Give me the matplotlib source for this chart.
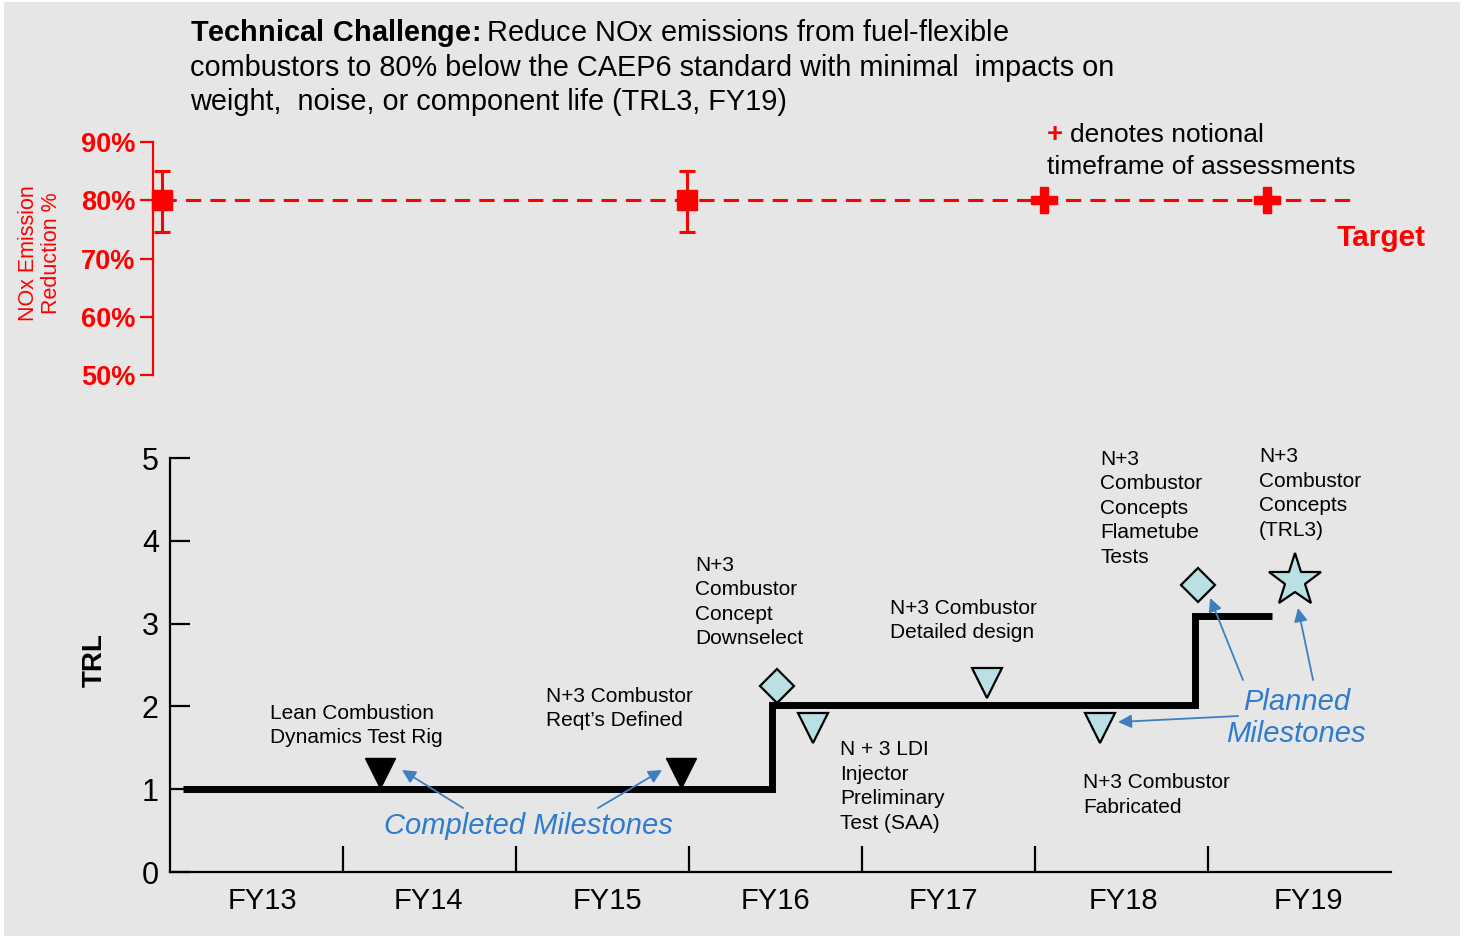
import matplotlib.pyplot as plt
from matplotlib.patches import Rectangle

plt.rcParams['font.family'] = ['Liberation Sans', 'DejaVu Sans']
plt.rcParams['mathtext.fontset'] = 'custom'
plt.rcParams['mathtext.rm'] = 'Liberation Sans'
plt.rcParams['mathtext.bf'] = 'Liberation Sans:bold'

# x unit = fiscal year, FY13 starts at 0
fy_labels = ['FY13', 'FY14', 'FY15', 'FY16', 'FY17', 'FY18', 'FY19']
fy_label_x = [0.532, 1.491, 2.526, 3.497, 4.468, 5.509, 6.578]
fy_bounds = [1, 2, 3, 4, 5, 6]

# NOx target panel
nox_ticks = [50, 60, 70, 80, 90]
target = 80
target_line_x = [-0.05, 6.82]
assessed_x = [-0.046, 2.99]
assessed_err_lo = [5.5, 5.5]
assessed_err_hi = [5.0, 5.0]
notional_x = [5.05, 6.34]

# TRL step path
trl_x = [0.075, 3.48, 3.48, 5.925, 5.925, 6.37]
trl_y = [1, 1, 2.02, 2.02, 3.09, 3.09]

# milestones
done_x = [1.214, 2.954]
done_y = [1.2, 1.2]
tri_x = [3.717, 4.72, 5.376]
tri_y = [1.74, 2.28, 1.74]
dia_x = [3.509, 5.942]
dia_y = [2.25, 3.47]
star_x = [6.503]
star_y = [3.51]

labels = [
    ('Lean Combustion\nDynamics Test Rig', 0.578, 2.03),
    ("N+3 Combustor\nReqt\u2019s Defined", 2.173, 2.24),
    ('N+3\nCombustor\nConcept\nDownselect', 3.035, 3.82),
    ('N+3 Combustor\nDetailed design', 4.16, 3.30),
    ('N + 3 LDI\nInjector\nPreliminary\nTest (SAA)', 3.873, 1.59),
    ('N+3 Combustor\nFabricated', 5.277, 1.19),
    ('N+3\nCombustor\nConcepts\nFlametube\nTests', 5.376, 5.10),
    ('N+3\nCombustor\nConcepts\n(TRL3)', 6.295, 5.13),
]

# (tail, head) of the blue call-out arrows
done_arrows = [((1.694, 0.773), (1.341, 1.232)), ((2.474, 0.773), (2.844, 1.232))]
plan_arrows = [((6.202, 2.319), (6.012, 3.309)), ((6.607, 2.319), (6.520, 3.188)),
               ((6.173, 1.884), (5.480, 1.812))]

red = '#ff0000'
blue_txt = '#2e7bcf'
blue_arr = '#3f7fc0'
fill = '#b9e0e4'

fig = plt.figure(figsize=(14.66, 9.36), dpi=100)
fig.patch.set_facecolor('white')
fig.patches.append(Rectangle((4 / 1466, 0), 1456 / 1466, 934 / 936, transform=fig.transFigure,
                             facecolor='#e6e6e6', edgecolor='none', zorder=-10))

xlim = (-0.4046, 7.1098)

# ---- top panel: NOx reduction
ax1 = fig.add_axes([0.0682, 0.5833, 0.8868, 0.2885])
ax1.set_facecolor('none')
ax1.set_xlim(xlim)
ax1.set_ylim(47.42, 93.78)
for s in ['top', 'right', 'bottom']:
    ax1.spines[s].set_visible(False)
ax1.spines['left'].set_position(('data', -0.098))
ax1.spines['left'].set_bounds(50, 90)
ax1.spines['left'].set_color(red)
ax1.spines['left'].set_linewidth(1.6)
ax1.set_xticks([])
ax1.set_yticks(nox_ticks)
ax1.set_yticklabels([f'{v}%' for v in nox_ticks], fontweight='bold')
ax1.tick_params(axis='y', direction='out', length=9.5, width=1.6, color=red,
                labelcolor=red, labelsize=19.5, pad=3)

ax1.plot(target_line_x, [target, target], color=red, lw=2.2, dashes=(5, 3))
ax1.errorbar(assessed_x, [target] * len(assessed_x), yerr=[assessed_err_lo, assessed_err_hi],
             fmt='s', color=red, ms=14.5, elinewidth=2.2, capsize=6, capthick=2.2)
ax1.plot(notional_x, [target] * len(notional_x), 'P', color=red, ms=19, mec=red)

ax1.text(-0.751, 70.94, 'NOx Emission\nReduction %', rotation=90, color=red, fontsize=15.5,
         ha='center', va='center', multialignment='center', linespacing=1.1, clip_on=False)
ax1.text(5.069, 91.2, '+', color=red, fontsize=20, fontweight='bold', ha='left', va='center')
ax1.text(5.202, 91.2, 'denotes notional', fontsize=19, ha='left', va='center')
ax1.text(5.069, 85.7, 'timeframe of assessments', fontsize=19, ha='left', va='center')
ax1.text(6.746, 73.5, 'Target', color=red, fontsize=21.5, fontweight='bold', ha='left',
         va='center')

fig.text(190 / 1466, 1 - 110 / 936,
         r'$\bf{Technical\ Challenge\!:}$Reduce NOx emissions from fuel-flexible' '\n'
         'combustors to 80% below the CAEP6 standard with minimal  impacts on\n'
         'weight,  noise, or component life (TRL3, FY19)',
         fontsize=20.8, ha='left', va='baseline', linespacing=1.25)

# ---- bottom panel: TRL roadmap
ax2 = fig.add_axes([0.0682, 0.0598, 0.8868, 0.4701])
ax2.set_facecolor('none')
ax2.set_xlim(xlim)
ax2.set_ylim(-0.0966, 5.2174)
for s in ['top', 'right']:
    ax2.spines[s].set_visible(False)
ax2.spines['left'].set_position(('data', 0))
ax2.spines['left'].set_bounds(0, 5)
ax2.spines['bottom'].set_position(('data', 0))
ax2.spines['bottom'].set_bounds(0, 7.06)
for s in ['left', 'bottom']:
    ax2.spines[s].set_linewidth(1.6)

ax2.set_yticks(range(6))
ax2.tick_params(axis='y', direction='in', length=14.5, width=1.6, labelsize=22, pad=8)
ax2.set_xticks(fy_bounds)
ax2.set_xticklabels([])
ax2.set_xticks(fy_label_x, minor=True)
ax2.set_xticklabels(fy_labels, minor=True)
ax2.tick_params(axis='x', which='major', direction='in', length=19, width=1.6)
ax2.tick_params(axis='x', which='minor', length=0, labelsize=21, pad=11)

ax2.text(-0.434, 2.56, 'TRL', rotation=90, fontsize=20, fontweight='bold',
         ha='center', va='center', clip_on=False)

ax2.plot(trl_x, trl_y, color='black', lw=5, solid_joinstyle='miter', solid_capstyle='butt',
         zorder=3)

ax2.plot(done_x, done_y, 'v', color='black', ms=22, zorder=5, clip_on=False)
ax2.plot(tri_x, tri_y, 'v', mfc=fill, mec='black', mew=1.6, ms=21.5, zorder=5)
ax2.plot(dia_x, dia_y, 'D', mfc=fill, mec='black', mew=1.6, ms=17.5, zorder=5)
ax2.plot(star_x, star_y, '*', mfc=fill, mec='black', mew=1.6, ms=40, zorder=5)

for txt, x, y in labels:
    ax2.text(x, y, txt, fontsize=15, ha='left', va='top', linespacing=1.37)

ax2.text(2.07, 0.556, 'Completed Milestones', color=blue_txt, fontsize=21, style='italic',
         ha='center', va='center')
ax2.text(6.51, 1.86, 'Planned\nMilestones', color=blue_txt, fontsize=21, style='italic',
         ha='center', va='center', multialignment='center', linespacing=1.2)

for tail, head in done_arrows + plan_arrows:
    ax2.annotate('', xy=head, xytext=tail,
                 arrowprops=dict(arrowstyle='-|>', color=blue_arr, lw=1.3,
                                 mutation_scale=20, shrinkA=0, shrinkB=0))

fig.savefig('out.png', dpi=100)
